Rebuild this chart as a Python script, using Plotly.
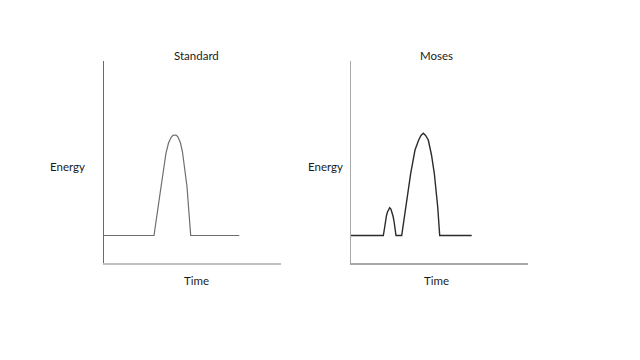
import plotly.graph_objects as go

# Data (time, energy) in arbitrary units
standard_time = [0, 50, 56, 62, 64.5, 67, 69, 70.7, 72.4, 74, 76.5, 78.5, 83, 86.7, 135.3]
standard_energy = [27.5, 27.5, 69, 110, 120, 125.5, 127.6, 128, 127.6, 126, 120, 111, 76.3, 27.5, 27.5]

moses_time = [0, 32.3, 33.4, 34.5, 35.5, 36.5, 37.5, 38.7, 39.9, 41, 42, 43, 45, 50.7, 55, 59.7, 64, 66, 67.7, 70, 72.3, 74.6, 77.3, 80.5, 83.3, 86.7, 88.7, 120.7]
moses_energy = [27.5, 27.5, 34, 42, 47.5, 51, 54, 55.3, 54, 51, 47, 42, 27.5, 27.5, 56.3, 89.7, 113, 119.5, 123, 127.5, 129.7, 127.5, 123, 108, 89.7, 56.3, 27.5, 27.5]

titles = ["Standard", "Moses"]
y_label = "Energy"
x_label = "Time"

FONT = "Lato"
OFF = 8  # page body margin offset in the browser


def px(x):
    return (x - OFF) / 624


def py(y):
    return (352 - y) / 344


fig = go.Figure()
fig.add_trace(go.Scatter(x=standard_time, y=standard_energy, mode="lines",
                         line=dict(color="#6e6e6e", width=1.2),
                         xaxis="x", yaxis="y", hoverinfo="skip"))
fig.add_trace(go.Scatter(x=moses_time, y=moses_energy, mode="lines",
                         line=dict(color="#2b2b2b", width=1.4),
                         xaxis="x2", yaxis="y2", hoverinfo="skip"))

ax_common = dict(showgrid=False, zeroline=False, showticklabels=False, ticks="", fixedrange=True)
ydom = [py(263), py(61)]

fig.update_layout(
    width=624, height=344,
    margin=dict(l=0, r=0, t=0, b=0),
    paper_bgcolor="white", plot_bgcolor="white",
    showlegend=False,
    xaxis=dict(domain=[px(104), px(281)], range=[0, 177], anchor="y",
               showline=True, linecolor="#c0c0c0", linewidth=2, **ax_common),
    yaxis=dict(domain=ydom, range=[0, 202], anchor="x",
               showline=True, linecolor="#6a6a6a", linewidth=1, **ax_common),
    xaxis2=dict(domain=[px(351), px(528)], range=[0, 177], anchor="y2",
                showline=True, linecolor="#a8a8a8", linewidth=2, **ax_common),
    yaxis2=dict(domain=ydom, range=[0, 202], anchor="x2",
                showline=True, linecolor="#a8a8a8", linewidth=1, **ax_common),
)

ann_font = dict(family=FONT, size=11.5, color="#1a1a1a")
centers = [(196.7, 67.7), (436.7, 325)]
for (cx, ex), t in zip(centers, titles):
    fig.add_annotation(x=px(cx), y=py(55), xref="paper", yref="paper",
                       text=t, showarrow=False, font=ann_font, xanchor="center", yanchor="middle")
    fig.add_annotation(x=px(ex), y=py(166), xref="paper", yref="paper",
                       text=y_label, showarrow=False, font=ann_font, xanchor="center", yanchor="middle")
    fig.add_annotation(x=px(cx), y=py(280), xref="paper", yref="paper",
                       text=x_label, showarrow=False, font=ann_font, xanchor="center", yanchor="middle")

fig.write_html("out.html")
